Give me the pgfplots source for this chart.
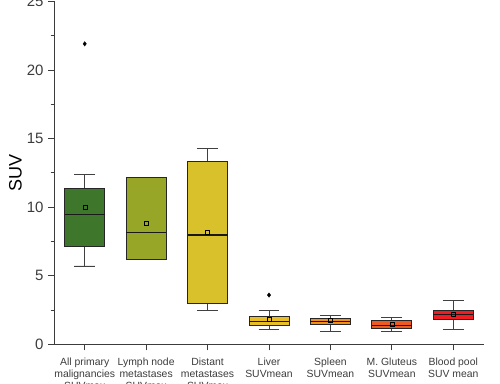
\documentclass[border=0pt]{standalone}
\usepackage{pgfplots}
\pgfplotsset{compat=1.18}
\usepgfplotslibrary{statistics}
\usepackage{fontspec}
\setmainfont{Liberation Sans}
\definecolor{c1}{RGB}{62,118,44}
\definecolor{c2}{RGB}{152,166,40}
\definecolor{c3}{RGB}{216,193,42}
\definecolor{c4}{RGB}{232,190,40}
\definecolor{c5}{RGB}{240,142,30}
\definecolor{c6}{RGB}{238,90,36}
\definecolor{c7}{RGB}{240,28,34}
\definecolor{axc}{RGB}{60,60,60}
\begin{document}
\begin{tikzpicture}
\begin{axis}[name=ax,
  scale only axis, width=430pt, height=343pt,
  xmin=0.5, xmax=7.5, ymin=0, ymax=25,
  axis lines*=left,
  axis line style={axc, line width=0.8pt},
  every tick/.style={axc, line width=0.8pt},
  tick align=outside,
  major tick length=6pt, minor tick length=3.5pt,
  ytick={0,5,10,15,20,25},
  minor ytick={2.5,7.5,12.5,17.5,22.5},
  xtick={1,...,7},
  xticklabels={All primary\\malignancies\\SUVmax, Lymph node\\metastases\\SUVmax, Distant\\metastases\\SUVmax, Liver\\SUVmean, Spleen\\SUVmean, M. Gluteus\\SUVmean, Blood pool\\SUV mean},
  xticklabel style={align=center, font=\fontsize{10.4}{12}\selectfont, text=axc, anchor=north, yshift=-4.5pt},
  yticklabel style={font=\fontsize{15}{17}\selectfont, text=axc, xshift=-1pt},
  /pgf/number format/assume math mode=true,
  ylabel={SUV}, ylabel style={font=\fontsize{18}{20}\selectfont, text=black, yshift=-2pt},
  boxplot/draw direction=y,
  boxplot/box extend=0.65,
  boxplot/whisker extend=0.34,
  boxplot/every box/.style={draw=black!85, line width=0.9pt},
  boxplot/every whisker/.style={draw=black!75, line width=0.9pt},
  boxplot/every median/.style={draw=black!90, line width=1.2pt},
  boxplot/every average/.style={/tikz/mark=square, mark size=2pt, /tikz/mark options={draw=black!50, line width=0.5pt, fill=none}},
]
\addplot[boxplot prepared={draw position=1, lower whisker=5.71, lower quartile=7.11, median=9.44, upper quartile=11.36, upper whisker=12.39, average=10.0},
  fill=c1, mark=diamond*, mark size=2.2pt, mark options={fill=black, draw=black}] coordinates {(0,21.9)};
\addplot[boxplot prepared={draw position=2, lower whisker=6.22, lower quartile=6.22, median=8.13, upper quartile=12.15, upper whisker=12.15, average=8.82},
  fill=c2] coordinates {};
\addplot[boxplot prepared={draw position=3, lower whisker=2.48, lower quartile=2.99, median=7.97, upper quartile=13.36, upper whisker=14.29, average=8.16},
  fill=c3] coordinates {};
\addplot[boxplot prepared={draw position=4, lower whisker=1.06, lower quartile=1.36, median=1.68, upper quartile=2.01, upper whisker=2.48, average=1.82},
  fill=c4, mark=diamond*, mark size=2.2pt, mark options={fill=black, draw=black}] coordinates {(0,3.59)};
\addplot[boxplot prepared={draw position=5, lower whisker=0.95, lower quartile=1.48, median=1.68, upper quartile=1.89, upper whisker=2.09, average=1.75},
  fill=c5] coordinates {};
\addplot[boxplot prepared={draw position=6, lower whisker=0.95, lower quartile=1.17, median=1.38, upper quartile=1.77, upper whisker=1.99, average=1.5},
  fill=c6] coordinates {};
\addplot[boxplot prepared={draw position=7, lower whisker=1.06, lower quartile=1.80, median=2.16, upper quartile=2.48, upper whisker=3.21, average=2.2},
  fill=c7] coordinates {};
\end{axis}
\pgfresetboundingbox
\path[use as bounding box] ([xshift=-54pt,yshift=-38.7pt]ax.south west) rectangle ([xshift=16pt,yshift=1.3pt]ax.north east);
\end{tikzpicture}
\end{document}
